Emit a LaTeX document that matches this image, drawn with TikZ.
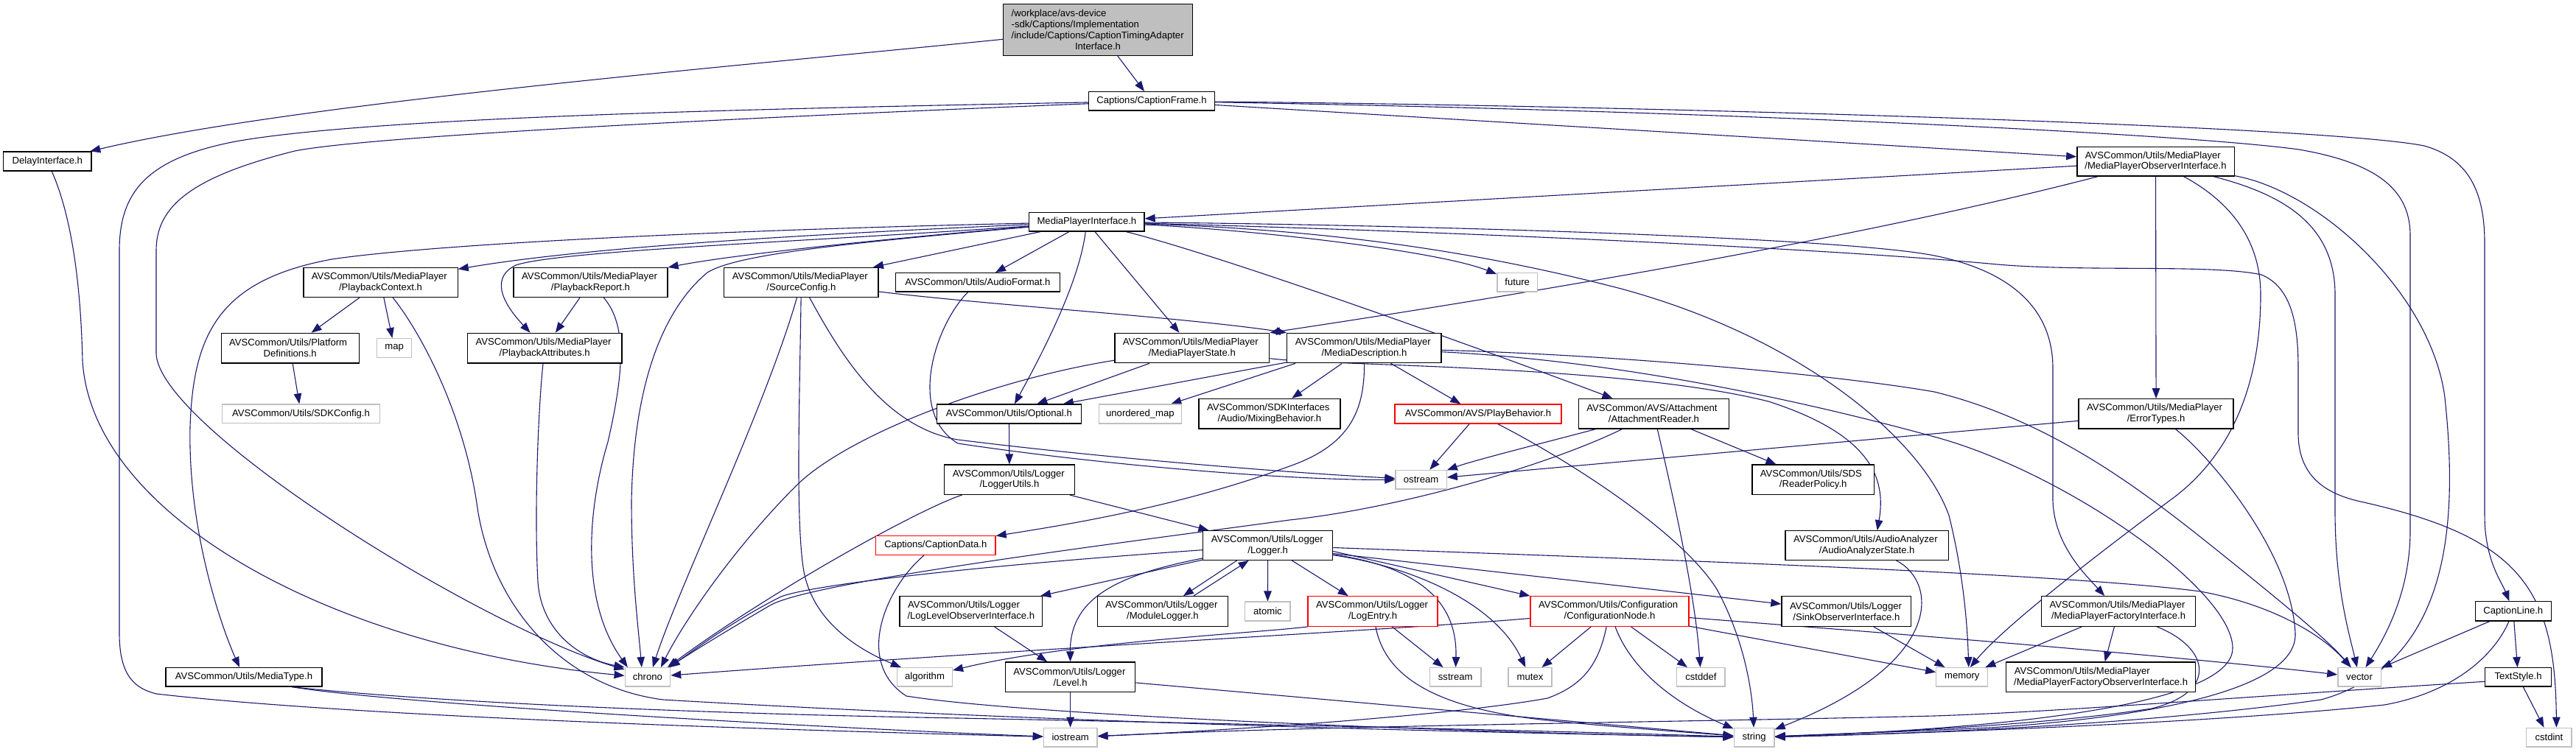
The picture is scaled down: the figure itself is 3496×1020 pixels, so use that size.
\documentclass[tikz,border=0pt]{standalone}
\usepackage{fontspec}
\setmainfont{Liberation Sans}
\usetikzlibrary{arrows.meta}
\definecolor{eblue}{RGB}{25,25,112}
\definecolor{ngray}{RGB}{191,191,191}
\definecolor{nred}{RGB}{255,0,0}
\pgfdeclarelayer{bg}
\pgfsetlayers{bg,main}
\newcommand\lastln[1]{\makebox[\linewidth][c]{#1}}
\begin{document}
\begin{tikzpicture}[x=1pt,y=-1pt,
  font=\fontsize{13.1}{14.8}\selectfont,
  box/.style={draw=black, line width=1.3pt, fill=white, inner sep=0pt, align=center},
  gbox/.style={box, draw=ngray},
  rbox/.style={box, draw=nred},
  two/.style={text width=#1, align=left},
  ln/.style={draw=eblue, line width=1.1pt, -{Triangle[length=14pt,width=10.5pt]}}]
\useasboundingbox (0,0) rectangle (3496,1020);
% nodes
\node[box, fill=ngray, minimum width=256.7pt, minimum height=70pt, two=234.7pt] (main) at (1490,40.3) {/workplace/avs-device\\-sdk/Captions/Implementation\\/include/Captions/CaptionTimingAdapter\\\lastln{Interface.h}};
\node[box, minimum width=119.5pt, minimum height=26pt] (delay) at (64.3,219) {DelayInterface.h};
\node[box, minimum width=170.7pt, minimum height=25.3pt] (cframe) at (1563,137.3) {Captions/CaptionFrame.h};
\node[box, minimum width=156.2pt, minimum height=25.3pt] (mpi) at (1474.9,301.3) {MediaPlayerInterface.h};
\node[box, minimum width=213.3pt, minimum height=39.7pt, two=191.3pt] (mpobs) at (2925.5,219.2) {AVSCommon/Utils/MediaPlayer\\\lastln{/MediaPlayerObserverInterface.h}};
\node[box, minimum width=209.3pt, minimum height=40pt, two=187.3pt] (pbctx) at (516.5,383.3) {AVSCommon/Utils/MediaPlayer\\\lastln{/PlaybackContext.h}};
\node[box, minimum width=187pt, minimum height=40.7pt, two=165pt] (platdef) at (393.7,472.7) {AVSCommon/Utils/Platform\\\lastln{Definitions.h}};
\node[gbox, minimum width=47pt, minimum height=25.6pt] (map) at (535.2,472.5) {map};
\node[gbox, minimum width=214.3pt, minimum height=25.7pt] (sdkcfg) at (408.5,561.8) {AVSCommon/Utils/SDKConfig.h};
\node[box, minimum width=209pt, minimum height=40pt, two=187pt] (pbreport) at (801.5,383.3) {AVSCommon/Utils/MediaPlayer\\\lastln{/PlaybackReport.h}};
\node[box, minimum width=209.3pt, minimum height=40.7pt, two=187.3pt] (pbattr) at (739.2,472.7) {AVSCommon/Utils/MediaPlayer\\\lastln{/PlaybackAttributes.h}};
\node[box, minimum width=209.3pt, minimum height=40pt, two=187.3pt] (srccfg) at (1087.4,383.3) {AVSCommon/Utils/MediaPlayer\\\lastln{/SourceConfig.h}};
\node[box, minimum width=223.2pt, minimum height=25.3pt] (audiofmt) at (1327,383.3) {AVSCommon/Utils/AudioFormat.h};
\node[box, minimum width=209.9pt, minimum height=40.4pt, two=187.9pt] (mpstate) at (1617.8,472.5) {AVSCommon/Utils/MediaPlayer\\\lastln{/MediaPlayerState.h}};
\node[box, minimum width=209.3pt, minimum height=40.4pt, two=187.3pt] (mdesc) at (1851.4,472.5) {AVSCommon/Utils/MediaPlayer\\\lastln{/MediaDescription.h}};
\node[box, minimum width=196.4pt, minimum height=26pt] (optional) at (1369.4,562) {AVSCommon/Utils/Optional.h};
\node[gbox, minimum width=111.6pt, minimum height=26pt] (umap) at (1547.4,562) {unordered\_map};
\node[box, minimum width=192pt, minimum height=40.7pt, two=170pt] (mixing) at (1723,561.7) {AVSCommon/SDKInterfaces\\\lastln{/Audio/MixingBehavior.h}};
\node[box, minimum width=176.4pt, minimum height=40.3pt, two=154.4pt] (loggerutils) at (1370,651.2) {AVSCommon/Utils/Logger\\\lastln{/LoggerUtils.h}};
\node[gbox, minimum width=54.7pt, minimum height=25.3pt] (future) at (2059.2,383.3) {future};
\node[rbox, minimum width=226pt, minimum height=26pt] (playbeh) at (2005.9,562) {AVSCommon/AVS/PlayBehavior.h};
\node[box, minimum width=204.2pt, minimum height=40.7pt, two=182.2pt] (attreader) at (2244.4,561.7) {AVSCommon/AVS/Attachment\\\lastln{/AttachmentReader.h}};
\node[gbox, minimum width=69.2pt, minimum height=25.7pt] (ostream) at (1928.6,651.2) {ostream};
\node[box, minimum width=165.7pt, minimum height=40.3pt, two=143.7pt] (readerpol) at (2460.7,651.2) {AVSCommon/Utils/SDS\\\lastln{/ReaderPolicy.h}};
\node[box, minimum width=210pt, minimum height=40.3pt, two=188pt] (errtypes) at (2926.1,561.9) {AVSCommon/Utils/MediaPlayer\\\lastln{/ErrorTypes.h}};
\node[box, minimum width=212.1pt, minimum height=25.3pt] (mediatype) at (331,919.3) {AVSCommon/Utils/MediaType.h};
\node[gbox, minimum width=61.4pt, minimum height=25.3pt] (chrono) at (878.9,919.3) {chrono};
\node[rbox, minimum width=162.4pt, minimum height=25.6pt] (captiondata) at (1269.8,740.5) {Captions/CaptionData.h};
\node[box, minimum width=175.8pt, minimum height=39.6pt, two=153.8pt] (logger) at (1720.7,740.5) {AVSCommon/Utils/Logger\\\lastln{/Logger.h}};
\node[box, minimum width=193.6pt, minimum height=40.6pt, two=171.6pt] (loglevelobs) at (1317.8,830) {AVSCommon/Utils/Logger\\\lastln{/LogLevelObserverInterface.h}};
\node[box, minimum width=176.9pt, minimum height=40.6pt, two=154.9pt] (modlogger) at (1577.9,830) {AVSCommon/Utils/Logger\\\lastln{/ModuleLogger.h}};
\node[gbox, minimum width=61.3pt, minimum height=26pt] (atomic) at (1720.4,830) {atomic};
\node[gbox, minimum width=74.8pt, minimum height=25.3pt] (algorithm) at (1255,919.3) {algorithm};
\node[box, minimum width=176.3pt, minimum height=40.3pt, two=154.3pt] (level) at (1452.6,919.2) {AVSCommon/Utils/Logger\\\lastln{/Level.h}};
\node[gbox, minimum width=72.5pt, minimum height=25.7pt] (iostream) at (1452.6,1001.2) {iostream};
\node[rbox, minimum width=175.8pt, minimum height=40.6pt, two=153.8pt] (logentry) at (1863,830) {AVSCommon/Utils/Logger\\\lastln{/LogEntry.h}};
\node[gbox, minimum width=69.7pt, minimum height=25.3pt] (sstream) at (1975.2,919.3) {sstream};
\node[gbox, minimum width=59.1pt, minimum height=25.3pt] (mutex) at (2076.5,919.3) {mutex};
\node[rbox, minimum width=214.9pt, minimum height=40.6pt, two=192.9pt] (confnode) at (2184.5,830) {AVSCommon/Utils/Configuration\\\lastln{/ConfigurationNode.h}};
\node[gbox, minimum width=65.3pt, minimum height=25.3pt] (cstddef) at (2308.4,919.3) {cstddef};
\node[box, minimum width=175.8pt, minimum height=40.6pt, two=153.8pt] (sinkobs) at (2505.9,830) {AVSCommon/Utils/Logger\\\lastln{/SinkObserverInterface.h}};
\node[gbox, minimum width=54.8pt, minimum height=25.7pt] (string) at (2380.6,1001.2) {string};
\node[box, minimum width=221.4pt, minimum height=39.6pt, two=199.4pt] (aastate) at (2533.7,740.5) {AVSCommon/Utils/AudioAnalyzer\\\lastln{/AudioAnalyzerState.h}};
\node[gbox, minimum width=70pt, minimum height=25.3pt] (memory) at (2662.8,919.3) {memory};
\node[box, minimum width=208.8pt, minimum height=40.6pt, two=186.8pt] (mpfactory) at (2875,830) {AVSCommon/Utils/MediaPlayer\\\lastln{/MediaPlayerFactoryInterface.h}};
\node[box, minimum width=256.6pt, minimum height=40.3pt, two=234.6pt] (mpfactobs) at (2851.1,919.2) {AVSCommon/Utils/MediaPlayer\\\lastln{/MediaPlayerFactoryObserverInterface.h}};
\node[gbox, minimum width=58.3pt, minimum height=25.3pt] (vector) at (3202,919.3) {vector};
\node[box, minimum width=102.8pt, minimum height=26.3pt] (captionline) at (3410.8,829.9) {CaptionLine.h};
\node[box, minimum width=89.4pt, minimum height=25.3pt] (textstyle) at (3417.5,919.3) {TextStyle.h};
\node[gbox, minimum width=61.2pt, minimum height=25.7pt] (cstdint) at (3459.4,1001.2) {cstdint};

\begin{pgfonlayer}{bg}
\fill[white] (0,0) rectangle (3496,1020);
% root
\draw[ln] (main) .. controls (1000,90) and (400,140) .. (delay);
\draw[ln] (main) -- (cframe);
\draw[ln] (delay) .. controls (100,300) and (110,400) .. (112,490) .. controls (125,700) and (450,880) .. ([yshift=2pt]chrono.west);
% CaptionFrame
\draw[ln] (cframe) .. controls (1000,148) and (500,160) .. (320,192) .. controls (200,215) and (162,260) .. (162,340) -- (162,860) .. controls (162,920) and (185,935) .. (212,942) .. controls (500,975) and (1100,992) .. (iostream);
\draw[ln] (cframe) .. controls (1000,160) and (500,185) .. (400,205) .. controls (260,240) and (212,280) .. (212,340) -- (212,480) .. controls (215,580) and (650,850) .. ([yshift=-3pt]chrono.north west);
\draw[ln] (cframe) -- (mpobs);
\draw[ln] (cframe) .. controls (2200,143) and (3150,170) .. (3290,198) .. controls (3350,215) and (3372,260) .. (3372,330) -- (3372,700) .. controls (3372,760) and (3395,790) .. (captionline);
\draw[ln] (cframe) .. controls (2300,150) and (2950,180) .. (3120,203) .. controls (3230,222) and (3271,260) .. (3271,320) -- (3271,720) .. controls (3271,800) and (3240,860) .. (vector);
% MediaPlayerObserverInterface
\draw[ln] (mpobs) -- (mpi);
\draw[ln] (mpobs) .. controls (2500,330) and (2000,410) .. (mpstate.north east);
\draw[ln] (mpobs) -- (errtypes);
\draw[ln] (mpobs) .. controls (3020,270) and (3068,320) .. (3068,400) .. controls (3068,560) and (3000,640) .. (2944,680) .. controls (2850,750) and (2720,850) .. (memory);
\draw[ln] (mpobs) .. controls (3090,262) and (3169,300) .. (3169,400) -- (3169,700) .. controls (3170,800) and (3188,860) .. (vector);
\draw[ln] (mpobs) .. controls (3150,260) and (3300,400) .. (3318,540) .. controls (3335,700) and (3330,900) .. (3150,950) .. controls (2900,985) and (2600,996) .. (string);
% MediaPlayerInterface
\draw[ln] (mpi) .. controls (1100,318) and (800,335) .. (pbctx);
\draw[ln] (mpi) .. controls (1100,328) and (760,340) .. (700,360) .. controls (660,380) and (690,420) .. (pbattr);
\draw[ln] (mpi) .. controls (1150,330) and (1000,345) .. (960,370) .. controls (900,420) and (860,520) .. (857,680) .. controls (857,780) and (866,850) .. ([xshift=-8pt]chrono.north);
\draw[ln] (mpi) .. controls (1250,320) and (1010,343) .. (pbreport);
\draw[ln] (mpi) -- (srccfg);
\draw[ln] (mpi) -- (audiofmt);
\draw[ln] (mpi) .. controls (1465,380) and (1420,470) .. (optional);
\draw[ln] (mpi) -- (mpstate);
\draw[ln] (mpi) .. controls (1650,345) and (1979,462) .. (attreader);
\draw[ln] (mpi) .. controls (1000,312) and (600,330) .. (450,352) .. controls (300,380) and (262,450) .. (258,580) .. controls (255,720) and (300,850) .. (mediatype);
\draw[ln] (mpi) .. controls (1900,305) and (2500,322) .. (2625,347) .. controls (2730,368) and (2786,420) .. (2786,500) -- (2786,680) .. controls (2788,740) and (2830,780) .. (mpfactory);
\draw[ln] (mpi) .. controls (1900,312) and (2450,335) .. (2700,358) .. controls (2820,370) and (3000,358) .. (3069,373) .. controls (3110,390) and (3119,440) .. (3119,500) -- (3119,590) .. controls (3120,650) and (3160,672) .. (3208,682) .. controls (3420,730) and (3468,800) .. ([xshift=10pt]cstdint.north);
\draw[ln] (mpi) .. controls (1800,312) and (2000,340) .. (2200,392) .. controls (2450,460) and (2610,600) .. (2645,700) .. controls (2665,780) and (2670,850) .. ([xshift=9pt]memory.north);
\draw[ln] (mpi) .. controls (1700,312) and (1950,340) .. (future);
% second level
\draw[ln] (pbctx) -- (platdef);
\draw[ln] (pbctx) -- (map);
\draw[ln] (pbctx) .. controls (570,450) and (630,560) .. (648,690) .. controls (668,820) and (760,932) .. (900,950) .. controls (1500,985) and (2100,996) .. (string);
\draw[ln] (platdef) -- (sdkcfg);
\draw[ln] (pbreport) -- (pbattr);
\draw[ln] (pbreport) .. controls (850,440) and (848,500) .. (825,600) .. controls (795,700) and (790,820) .. ([xshift=-27pt]chrono.north);
\draw[ln] (pbattr) .. controls (730,560) and (725,700) .. (730,790) .. controls (735,860) and (790,895) .. (chrono.north west);
\draw[ln] (srccfg) .. controls (1040,550) and (920,800) .. ([xshift=7pt]chrono.north);
\draw[ln] (srccfg) .. controls (1085,550) and (1080,700) .. (1090,770) .. controls (1100,840) and (1160,880) .. (algorithm);
\draw[ln] (srccfg) .. controls (1140,480) and (1200,580) .. (1300,597) .. controls (1500,622) and (1750,642) .. (ostream);
\draw[ln] (srccfg) .. controls (1350,415) and (1600,430) .. (mdesc.north west);
\draw[ln] (audiofmt) .. controls (1270,440) and (1230,560) .. (1300,602) .. controls (1500,632) and (1750,652) .. (ostream);
\draw[ln] (mpstate) -- (optional);
\draw[ln] (mpstate) .. controls (1350,515) and (1150,590) .. (1080,660) .. controls (1000,740) and (930,840) .. ([xshift=18pt]chrono.north);
\draw[ln] (mpstate) .. controls (1800,497) and (2200,495) .. (2400,545) .. controls (2540,590) and (2560,650) .. ([xshift=14pt]aastate.north);
\draw[ln] (mdesc) -- (optional);
\draw[ln] ([xshift=12pt]mdesc.south west) -- (umap);
\draw[ln] (mdesc) -- (mixing);
\draw[ln] (mdesc) -- (playbeh);
\draw[ln] (mdesc) .. controls (1852,560) and (1830,605) .. (1750,633) .. controls (1600,688) and (1450,712) .. (captiondata);
\draw[ln] (mdesc) .. controls (2200,482) and (2500,510) .. (2625,532) .. controls (2780,570) and (2900,660) .. (3000,740) .. controls (3100,820) and (3160,870) .. (vector);
\draw[ln] (mdesc) .. controls (2200,490) and (2450,545) .. (2625,593) .. controls (2800,640) and (3030,800) .. (3030,880) .. controls (3030,960) and (2700,990) .. (string);
\draw[ln] (playbeh) -- (ostream);
\draw[ln] (playbeh) .. controls (2120,620) and (2280,720) .. (2330,800) .. controls (2368,870) and (2378,940) .. (string);
\draw[ln] (attreader) .. controls (2100,600) and (2000,625) .. (ostream);
\draw[ln] (attreader) .. controls (2100,632) and (1900,690) .. (1750,706) .. controls (1500,740) and (1100,790) .. (1045,822) .. controls (985,857) and (935,888) .. ([xshift=29pt]chrono.north);
\draw[ln] (attreader) .. controls (2265,650) and (2300,800) .. (cstddef);
\draw[ln] (attreader) -- (readerpol);
\draw[ln] (errtypes) -- (ostream);
\draw[ln] (errtypes) .. controls (3000,620) and (3110,750) .. (3115,860) .. controls (3118,940) and (2900,975) .. (2700,988) .. controls (2550,995) and (2450,998) .. (string);
% logger area
\draw[ln] (optional) -- (loggerutils);
\draw[ln] (loggerutils) -- (logger);
\draw[ln] (loggerutils) .. controls (1250,690) and (1050,800) .. ([xshift=27pt]chrono.north);
\draw[ln] (logger) -- (loglevelobs);
\draw[ln] ([xshift=-42pt]logger.south) -- ([xshift=28pt]modlogger.north);
\draw[ln] ([xshift=42pt]modlogger.north) -- ([xshift=-26pt]logger.south);
\draw[ln] (logger) -- (atomic);
\draw[ln] (logger) .. controls (1520,780) and (1452,810) .. (level);
\draw[ln] (logger) .. controls (1300,770) and (1100,795) .. (1060,810) .. controls (1000,840) and (945,880) .. ([xshift=30pt]chrono.north);
\draw[ln] (logger) -- (logentry);
\draw[ln] (logger) .. controls (1930,770) and (1978,820) .. (sstream);
\draw[ln] (logger) .. controls (1920,770) and (2030,820) .. (mutex);
\draw[ln] ([yshift=-8pt]logger.east) -- (confnode.north west);
\draw[ln] ([yshift=-11pt]logger.east) -- ([yshift=10pt]sinkobs.west);
\draw[ln] ([yshift=-3pt]logger.east) .. controls (2200,758) and (2800,778) .. (2986,803) .. controls (3080,820) and (3150,860) .. (vector);
\draw[ln] (logentry) -- (sstream);
\draw[ln] (logentry) .. controls (1880,920) and (1950,962) .. (2100,978) .. controls (2200,988) and (2300,995) .. (string);
\draw[ln] (logentry.south west) .. controls (1700,860) and (1450,872) .. (algorithm);
\draw[ln] (confnode) .. controls (1900,855) and (1400,880) .. (chrono);
\draw[ln] (confnode) -- (mutex);
\draw[ln] (confnode) .. controls (2170,900) and (2150,930) .. (2100,948) .. controls (1950,975) and (1600,995) .. (iostream);
\draw[ln] (confnode) .. controls (2210,900) and (2260,950) .. (string);
\draw[ln] (confnode) -- (cstddef);
\draw[ln] (confnode) .. controls (2500,855) and (2900,885) .. (vector);
\draw[ln] (confnode) -- (memory);
\draw[ln] (sinkobs) -- (memory);
\draw[ln] (level) -- (iostream);
\draw[ln] (level) -- (string);
\draw[ln] (loglevelobs) -- (level);
\draw[ln] (aastate) .. controls (2630,790) and (2640,900) .. (string);
\draw[ln] (captiondata) .. controls (1200,800) and (1160,900) .. (1230,945) .. controls (1400,972) and (2000,995) .. (string);
% media player factory etc.
\draw[ln] (mpfactory) -- (memory);
\draw[ln] (mpfactory) -- (mpfactobs);
\draw[ln] (mpfactory) .. controls (3000,880) and (3010,940) .. (2920,962) .. controls (2750,988) and (2500,996) .. (string);
\draw[ln] (captionline) -- (vector);
\draw[ln] (captionline) -- (textstyle);
\draw[ln] (captionline) .. controls (3385,890) and (3330,940) .. (3236,957) .. controls (3000,982) and (2600,996) .. (string);
\draw[ln] (textstyle) -- (cstdint);
\draw[ln] ([yshift=-6pt]textstyle.west) .. controls (3000,949) and (2800,966) .. (2625,972) .. controls (2300,980) and (1800,985) .. (iostream);
\draw[ln] ([xshift=65pt]mediatype.south) .. controls (600,955) and (1000,970) .. (1300,975) .. controls (1800,985) and (2200,995) .. (string);
\draw[ln] ([xshift=65pt]mediatype.south) .. controls (550,958) and (1200,992) .. (iostream);
\end{pgfonlayer}
\end{tikzpicture}
\end{document}
